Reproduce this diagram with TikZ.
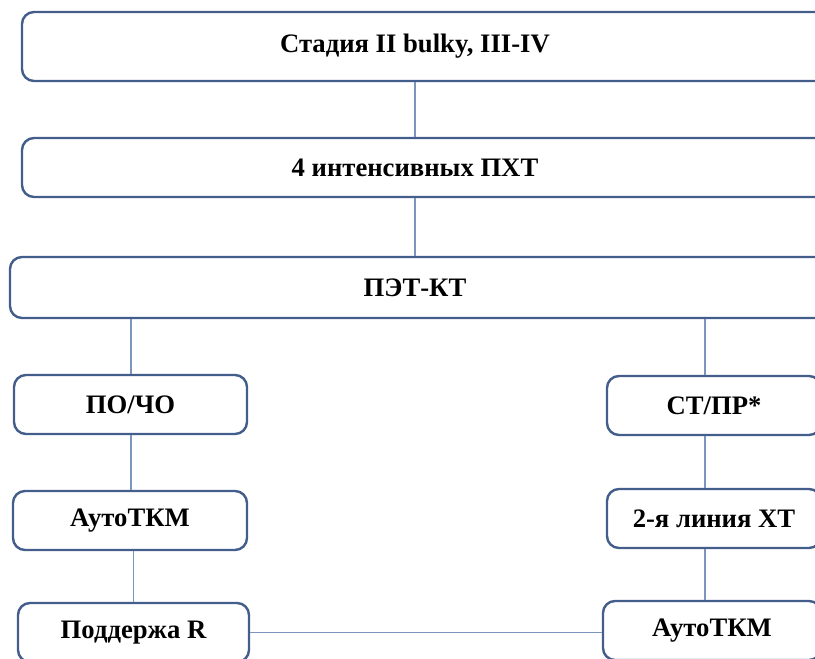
\documentclass[tikz,border=0pt]{standalone}
\usepackage{fontspec}
\setmainfont{Liberation Serif}
\definecolor{boxblue}{RGB}{68,94,140}
\definecolor{linkblue}{RGB}{122,150,188}
\begin{document}
\begin{tikzpicture}[x=0.75pt, y=-0.75pt,
  box/.style={draw=boxblue, line width=1.8pt, rounded corners=9pt, fill=white, inner sep=0pt,
    minimum height=44.25pt, font=\fontsize{20}{24}\selectfont\bfseries},
  txt/.style={inner sep=0pt, font=\fontsize{20}{24}\selectfont\bfseries},
  link/.style={draw=linkblue, line width=0.8pt}]
  \useasboundingbox (0,0) rectangle (815,659);
  \fill[white] (0,0) rectangle (815,659);
  \clip (0,0) rectangle (815,659);

  % wide rows
  \node[box, minimum width=606pt, minimum height=51.75pt] (stage) at (426,46.5) {};
  \node[txt] (stagetxt) at (415,46.5) {Стадия II bulky, III-IV};
  \node[box, minimum width=606pt] (pxt) at (426,167.5) {};
  \node[txt] (pxttxt) at (415,167.5) {4 интенсивных ПХТ};
  \node[box, minimum width=615pt, minimum height=45.75pt] (pet) at (420,287.5) {};
  \node[txt] (pettxt) at (415,287.5) {ПЭТ-КТ};

  % left branch
  \coordinate (ltrunk) at (131,0);
  \node[box, minimum width=174.75pt] (poco) at (130.5,404.5) {ПО/ЧО};
  \node[box, minimum width=175.5pt] (autol) at (130,520.5) {АутоТКМ};
  \node[box, minimum width=173.25pt] (supp) at (133.5,632.5) {Поддержа R};

  % right branch
  \coordinate (rtrunk) at (705,0);
  \node[box, minimum width=160.5pt] (stpr) at (714,405.5) {СТ/ПР*};
  \node[box, minimum width=160.5pt] (line2) at (714,518.5) {2-я линия ХТ};
  \node[box, minimum width=163.5pt] (autor) at (712,630.5) {АутоТКМ};

  \draw[link] (stage.south -| stagetxt) -- (pxt.north -| stagetxt);
  \draw[link] (pxt.south -| pxttxt) -- (pet.north -| pxttxt);
  \draw[link] (pet.south -| ltrunk) -- (poco.north -| ltrunk);
  \draw[link] (poco.south -| ltrunk) -- (autol.north -| ltrunk);
  \draw[link] (autol.south -| supp.north) -- (supp.north);
  \draw[link] (pet.south -| rtrunk) -- (stpr.north -| rtrunk);
  \draw[link] (stpr.south -| rtrunk) -- (line2.north -| rtrunk);
  \draw[link] (line2.south -| rtrunk) -- (autor.north -| rtrunk);
  \draw[link] (supp.east) -- (supp.east -| autor.west);
\end{tikzpicture}
\end{document}
